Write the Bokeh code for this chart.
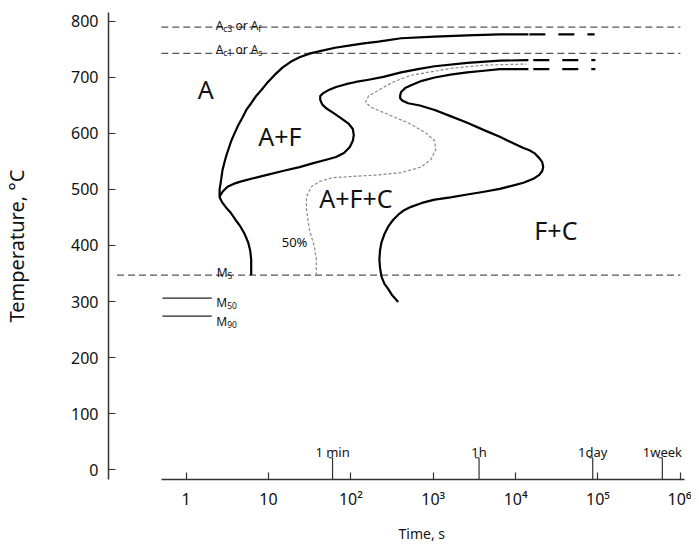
from bokeh.plotting import figure
from bokeh.models import Range1d, FixedTicker, Title
from bokeh.core.properties import value
from bokeh.embed import file_html
from bokeh.resources import INLINE

FONT = "Noto Sans"

# ---- data (time in s, temperature in °C) ----
AC3 = 790
AC1 = 743
MS = 347
M50 = 306
M90 = 274

crit_t = [0.5, 1.0e6]          # extent of Ac3 / Ac1 lines
ms_t = [0.145, 1.0e6]          # extent of Ms line
mlines_t = [0.516, 2.05]       # extent of M50 / M90 lines

# start of transformation (A -> A+F)
c1_t = [6.17, 6.17, 6.00, 5.68, 5.16, 4.56, 3.97, 3.46, 3.05, 2.77, 2.63, 2.55, 2.55,
        2.63, 2.70, 2.77, 2.93, 3.10, 3.32, 3.56, 3.92, 4.31, 4.82, 5.38, 6.17, 7.09,
        8.25, 9.60, 11.97, 14.9, 18.6, 23.8, 32.3, 44.9, 64.3, 94.6, 143, 216, 408,
        1042, 2590, 6430, 14310]
c1_T = [347, 375, 391, 405, 420, 434, 446, 459, 468, 476, 482, 487, 500,
        512, 524, 535, 549, 562, 575, 588, 602, 615, 628, 642, 654, 667,
        678, 690, 705, 718, 728, 736, 743, 748, 753, 757, 761, 764, 770,
        773, 775, 777, 777]
c1_ext_t = [14700, 91000]

# A+F / A+F+C boundary
c2_t = [2.55, 2.77, 3.18, 3.76, 4.56, 6.52, 9.60, 14.9, 23.8, 35.1, 50.2, 66.1, 82.5,
        97.3, 105.7, 108.6, 105.7, 94.6, 78.0, 62.6, 50.2, 44.9, 42.5, 42.5, 46.2,
        53.0, 66.1, 87.1, 114.8, 164, 248.5, 408, 652, 1042, 2590, 6430, 14310]
c2_T = [487, 496, 505, 510, 514, 520, 526, 533, 540, 547, 553, 558, 565,
        576, 587, 597, 608, 617, 626, 636, 645, 652, 660, 667, 672,
        677, 683, 688, 692, 696, 701, 709, 715, 720, 726, 730, 731]
c2_ext_t = [16400, 93000]

# 50 % transformation (dotted)
c3_t = [38.1, 38.1, 36.1, 31.4, 28.9, 28.9, 33.2, 41.4, 59.2, 124.7, 216, 408, 709,
        933, 1071, 1042, 813, 495, 263, 174, 151, 164, 216, 327, 538, 1620, 4140, 13540]
c3_T = [347, 375, 398, 428, 464, 487, 505, 514, 521, 524, 526, 530, 540,
        553, 571, 587, 601, 619, 636, 647, 656, 667, 677, 692, 704, 716, 722, 724]

# end of transformation (F+C)
c4_t = [376, 318, 285, 255, 235, 226, 222, 226, 235, 255, 285, 327, 376, 443, 538,
        728, 1042, 1620, 2590, 4140, 6430, 9207, 12460, 16430, 19390, 21060, 21640,
        21060, 19390, 16890, 14720, 12460, 8954, 6430, 4140, 2590, 1620, 1042, 689,
        495, 420, 397, 397, 408, 456, 538, 728, 1042, 1620, 2590, 4140, 6430, 14310]
c4_T = [299, 311, 322, 332, 345, 361, 375, 391, 405, 420, 434, 446, 455, 463, 469,
        476, 482, 486, 491, 496, 501, 507, 512, 519, 526, 533, 540,
        549, 556, 565, 570, 574, 584, 594, 606, 619, 631, 642, 650,
        654, 659, 663, 668, 674, 681, 686, 694, 700, 705, 709, 712, 715, 715]
c4_ext_t = [16400, 93000]

marker_t = [60, 3600, 86400, 604800]
marker_labels = ["1 min", "1h", "1day", "1week"]
marker_top = 21

x_ticks = [1, 10, 100, 1000, 10000, 100000, 1000000]
x_tick_labels = ["1", "10", "10\u00b2", "10\u00b3", "10\u2074", "10\u2075", "10\u2076"]
y_ticks = [0, 100, 200, 300, 400, 500, 600, 700, 800]

regions = ["A", "A+F", "A+F+C", "F+C"]
region_t = [1.73, 13.75, 41.4, 16900]
region_T = [679, 596, 484, 428]
region_align = ["center", "center", "left", "left"]

# ---- figure ----
p = figure(width=691, height=552, x_axis_type="log",
           x_range=Range1d(0.1143, 1.366e6), y_range=Range1d(-17.8, 816),
           output_backend="svg", toolbar_location=None,
           min_border_left=105, min_border_right=0, min_border_top=12, min_border_bottom=71)
p.xgrid.visible = False
p.ygrid.visible = False
p.outline_line_color = None

AX = "#333333"
for ax in (p.xaxis[0], p.yaxis[0]):
    ax.axis_line_color = AX
    ax.axis_line_width = 1.5
    ax.major_tick_line_color = AX
    ax.major_tick_line_width = 1.2
    ax.major_tick_in = 7
    ax.major_tick_out = 0
    ax.minor_tick_line_color = None
    ax.major_label_text_font = FONT
    ax.major_label_text_font_size = "16px"
    ax.major_label_text_color = "#111111"
    ax.axis_label_text_font = FONT
    ax.axis_label_text_font_style = "normal"
    ax.axis_label_text_color = "#111111"

p.xaxis.ticker = FixedTicker(ticks=x_ticks)
p.xaxis.major_label_overrides = {t: s for t, s in zip(x_ticks, x_tick_labels)}
p.xaxis.bounds = (0.5, 1.12e6)
p.xaxis.major_label_standoff = 8

p.yaxis.ticker = FixedTicker(ticks=y_ticks)
p.yaxis.major_label_standoff = 10
p.yaxis.axis_label = "Temperature, \u00b0C"
p.yaxis.axis_label_text_font_size = "20px"
p.yaxis.axis_label_standoff = 38

p.add_layout(Title(text="Time, s", align="left", offset=290, standoff=19,
                   text_font=FONT, text_font_size="14px", text_font_style="normal",
                   text_color="#111111"), "below")

# critical temperature lines
DASH = "#555555"
p.line(crit_t, [AC3, AC3], line_color=DASH, line_width=1.3, line_dash="7 4")
p.line(crit_t, [AC1, AC1], line_color=DASH, line_width=1.3, line_dash="7 4")
p.line(ms_t, [MS, MS], line_color=DASH, line_width=1.3, line_dash="7 4")
p.line(mlines_t, [M50, M50], line_color="#222222", line_width=1.2)
p.line(mlines_t, [M90, M90], line_color="#222222", line_width=1.2)

# transformation curves
for tt, TT in ((c1_t, c1_T), (c2_t, c2_T), (c4_t, c4_T)):
    p.line(tt, TT, line_color="black", line_width=2.2, line_join="round")
p.line(c3_t, c3_T, line_color="#888888", line_width=1.2, line_dash="3 2")
p.line(c1_ext_t, [c1_T[-1]] * 2, line_color="black", line_width=2.2, line_dash="16 13")
p.line(c2_ext_t, [c2_T[-1]] * 2, line_color="black", line_width=2.2, line_dash="16 13")
p.line(c4_ext_t, [c4_T[-1]] * 2, line_color="black", line_width=2.2, line_dash="16 13")

# time markers
HOOK = 10 ** (4 / 82.8)
p.segment(x0=marker_t, y0=[-17.8] * 4, x1=marker_t, y1=[marker_top] * 4,
          line_color=AX, line_width=1.2)
p.segment(x0=[t / HOOK for t in marker_t], y0=[marker_top] * 4, x1=marker_t,
          y1=[marker_top] * 4, line_color=AX, line_width=1.2)
p.text(x=marker_t, y=[32] * 4, text=marker_labels, text_align="center",
       text_baseline="alphabetic", text_font=value(FONT), text_font_size="13px",
       text_color="#111111")

# region labels
for s, t, T, al in zip(regions, region_t, region_T, region_align):
    p.text(x=[t], y=[T], text=[s], text_align=al, text_baseline="middle",
           text_font=value(FONT), text_font_size="25px", text_color="#111111")

p.text(x=[29.7], y=[407], text=["50%"], text_align="right", text_baseline="middle",
       text_font=value(FONT), text_font_size="13px", text_color="#111111")

# labels with subscripts
W = {"A": .633, "c": .48, "3": .572, "1": .572, " ": .26, "o": .602, "r": .408,
     "f": .344, "s": .479, "S": .55, "M": .907, "5": .572, "0": .572, "9": .572}


def tw(s, size):
    return sum(W.get(ch, .57) for ch in s) * size


def sub_label(x, y, pieces, size=12, sub_size=8.5, drop=3):
    off = 0.0
    for txt, sub in pieces:
        fs = sub_size if sub else size
        if txt.startswith(" "):
            off += tw(" ", size)
            txt = txt.lstrip()
        p.text(x=[x], y=[y], text=[txt], x_offset=off, y_offset=drop if sub else 0,
               text_align="left", text_baseline="alphabetic", text_font=value(FONT),
               text_font_size=f"{fs}px", text_color="#111111")
        off += tw(txt, fs)


sub_label(2.29, 793, [("A", False), ("c3", True), (" or A", False), ("f", True)])
sub_label(2.29, 750, [("A", False), ("c1", True), (" or A", False), ("s", True)])
sub_label(2.35, 352, [("M", False), ("S", True)])
sub_label(2.33, 299, [("M", False), ("50", True)])
sub_label(2.33, 265, [("M", False), ("90", True)])

open("out.html", "w").write(file_html(p, INLINE))
